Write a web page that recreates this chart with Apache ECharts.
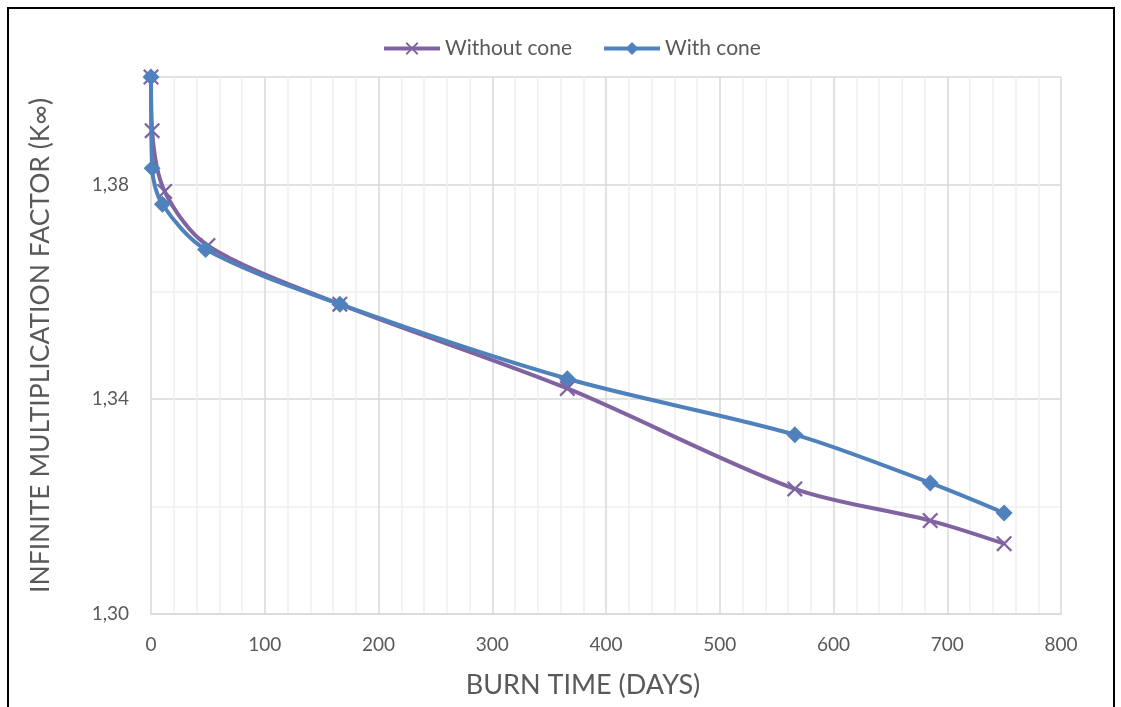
<!DOCTYPE html>
<html>
<head>
<meta charset="utf-8">
<script src="https://cdn.jsdelivr.net/npm/echarts@6/dist/echarts.min.js"></script>
<style>
  html, body { margin: 0; padding: 0; background: #fff; }
  #chart { width: 1121px; height: 707px; }
</style>
</head>
<body>
<div id="chart"></div>
<script>
// burn time (days) / k-infinity
const withoutConeDays = [0, 1, 12, 50, 166, 366, 566, 685, 750];
const withoutConeK = [1.400, 1.390, 1.3787, 1.3686, 1.3577, 1.3420, 1.3233, 1.3174, 1.3131];
const withConeDays = [0, 1, 10, 48, 166, 366, 566, 685, 750];
const withConeK = [1.400, 1.383, 1.3763, 1.3679, 1.3577, 1.3438, 1.3334, 1.3244, 1.3188];

const seriesNames = ["Without cone", "With cone"];
const colors = ["#8064A2", "#4F81BD"];
const font = "Lato, 'Open Sans', sans-serif";
const crossPath = "path://M0,1L1,0L5,4L9,0L10,1L6,5L10,9L9,10L5,6L1,10L0,9L4,5Z";

function pairs(xs, ys) {
  return xs.map((x, i) => [x, ys[i]]);
}

const chart = echarts.init(document.getElementById("chart"));
chart.setOption({
  animation: false,
  graphic: [{
    type: "rect",
    shape: { x: 8, y: 8, width: 1106, height: 710 },
    style: { fill: "none", stroke: "#000", lineWidth: 2 },
    silent: true
  }],
  legend: {
    top: 33,
    left: 377,
    itemWidth: 56,
    itemHeight: 16,
    itemGap: 30,
    lineStyle: { width: 4 },
    textStyle: { color: "#595959", fontSize: 21, fontFamily: font },
    data: seriesNames
  },
  grid: { left: 151, right: 60, top: 77, bottom: 93 },
  xAxis: {
    type: "value",
    min: 0,
    max: 800,
    interval: 100,
    name: "BURN TIME (DAYS)",
    nameLocation: "middle",
    nameGap: 58,
    nameTextStyle: { color: "#595959", fontSize: 27, fontFamily: font, padding: [0, 46, 0, 0] },
    axisLine: { show: true, lineStyle: { color: "#d9d9d9", width: 1.5 } },
    axisTick: { show: false },
    axisLabel: { color: "#595959", fontSize: 19, fontFamily: font, margin: 21 },
    splitLine: { show: true, lineStyle: { color: "#d9d9d9", width: 1.5 } },
    minorTick: { show: false, splitNumber: 5 },
    minorSplitLine: { show: true, lineStyle: { color: "#f0f0f0", width: 1.5 } }
  },
  yAxis: {
    type: "value",
    min: 1.30,
    max: 1.40,
    interval: 0.04,
    name: "INFINITE MULTIPLICATION FACTOR (K\u221E)",
    nameLocation: "middle",
    nameGap: 97,
    nameTextStyle: { color: "#595959", fontSize: 26.5, fontFamily: font },
    axisLine: { show: false },
    axisTick: { show: false },
    axisLabel: {
      color: "#595959",
      fontSize: 19,
      fontFamily: font,
      margin: 22,
      showMaxLabel: false,
      formatter: v => v.toFixed(2).replace(".", ",")
    },
    splitLine: { show: true, lineStyle: { color: "#d9d9d9", width: 1.5 } },
    minorTick: { show: false, splitNumber: 2 },
    minorSplitLine: { show: true, lineStyle: { color: "#f0f0f0", width: 1.5 } }
  },
  series: [
    {
      name: seriesNames[0],
      type: "line",
      smooth: 0.3,
      data: pairs(withoutConeDays, withoutConeK),
      symbol: crossPath,
      symbolSize: 16,
      lineStyle: { color: colors[0], width: 4 },
      itemStyle: { color: colors[0] },
      z: 2
    },
    {
      name: seriesNames[1],
      type: "line",
      smooth: 0.3,
      data: pairs(withConeDays, withConeK),
      symbol: "diamond",
      symbolSize: 17,
      lineStyle: { color: colors[1], width: 4 },
      itemStyle: { color: colors[1] },
      z: 3
    }
  ]
});
</script>
</body>
</html>
